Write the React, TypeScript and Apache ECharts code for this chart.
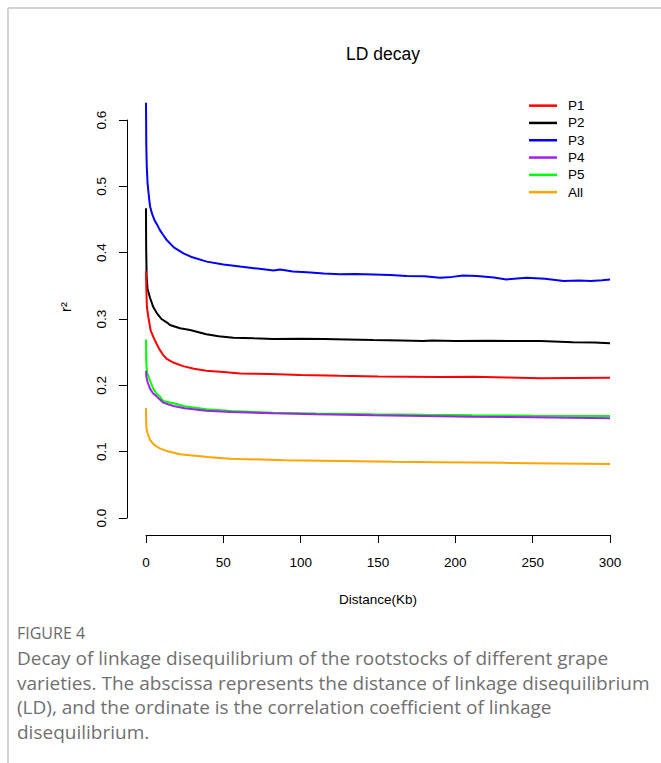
import React, { useEffect, useRef } from "react";
import * as echarts from "echarts";

const titleText = "LD decay";
const xName = "Distance(Kb)";
const yName = "r²";

const seriesNames = ["P1", "P2", "P3", "P4", "P5", "All"];
const seriesColors = ["#FF0000", "#000000", "#0000FF", "#A020F0", "#00FF00", "#FFA500"];

// [distance (Kb), r^2]
const p1: number[][] = [
  [0, 0.372], [0.2, 0.345], [0.6, 0.318], [1.5, 0.303], [3, 0.283], [4.7, 0.273], [7, 0.262], [9, 0.253],
  [11, 0.246], [13.4, 0.24], [18, 0.234], [24, 0.229], [31, 0.225], [39, 0.222], [50, 0.22], [61, 0.218],
  [80, 0.217], [100, 0.2156], [125, 0.2145], [150, 0.2135], [169, 0.213], [190, 0.2125], [212, 0.213],
  [233, 0.2118], [255, 0.2108], [275, 0.2112], [300, 0.2115],
];
const p2: number[][] = [
  [0, 0.467], [0.1, 0.41], [0.4, 0.364], [1, 0.345], [2.6, 0.332], [4.7, 0.318], [7, 0.309], [10, 0.3],
  [13.4, 0.295], [15.5, 0.291], [22, 0.286], [28.5, 0.2834], [39, 0.277], [47, 0.274], [56.5, 0.2718],
  [70, 0.2708], [82, 0.27], [100, 0.2702], [115, 0.27], [130, 0.2692], [147, 0.2683], [165, 0.2676],
  [179, 0.2669], [185, 0.2677], [200, 0.267], [222, 0.2673], [240, 0.2668], [255, 0.2669], [276, 0.2649],
  [290, 0.2645], [300, 0.2634],
];
const p3: number[][] = [
  [0, 0.626], [0.2, 0.56], [0.5, 0.53], [1, 0.505], [2, 0.482], [2.6, 0.47], [4, 0.458], [5.5, 0.449],
  [7, 0.443], [9, 0.434], [11, 0.427], [13.4, 0.419], [18, 0.408], [24.2, 0.399], [30, 0.393], [39.3, 0.3865],
  [50, 0.382], [60.8, 0.379], [72, 0.376], [82.4, 0.373], [86.7, 0.3745], [95, 0.3715], [104, 0.3705],
  [115, 0.3685], [125.4, 0.3674], [135, 0.3678], [147, 0.367], [158, 0.3662], [168.6, 0.365], [180, 0.3645],
  [190, 0.3623], [198, 0.3635], [205, 0.3655], [214, 0.365], [225, 0.3625], [233, 0.3597], [246, 0.3623],
  [258, 0.3605], [270, 0.3573], [280, 0.358], [287.5, 0.3573], [295, 0.3585], [300, 0.3597],
];
const p4: number[][] = [
  [0, 0.222], [0.3, 0.212], [1, 0.205], [2.6, 0.195], [4.5, 0.188], [7, 0.183], [11, 0.174], [17.7, 0.1689],
  [25, 0.1655], [39, 0.1618], [55, 0.1598], [82, 0.1578], [110, 0.1563], [147, 0.1548], [180, 0.1538],
  [211, 0.1528], [250, 0.1518], [300, 0.1505],
];
const p5: number[][] = [
  [0, 0.269], [0.15, 0.24], [0.4, 0.226], [1, 0.217], [2.6, 0.207], [4.7, 0.195], [7, 0.187], [9, 0.183],
  [11, 0.1765], [17.7, 0.173], [25, 0.1685], [39, 0.164], [55, 0.1612], [82, 0.1588], [110, 0.1575],
  [147, 0.1563], [180, 0.1555], [211, 0.1548], [250, 0.1542], [300, 0.1538],
];
const pAll: number[][] = [
  [0, 0.166], [0.2, 0.14], [0.5, 0.133], [1, 0.128], [2.6, 0.1176], [5, 0.111], [7, 0.1075], [9, 0.105],
  [14, 0.1005], [22, 0.096], [28.5, 0.0945], [40, 0.092], [54, 0.0895], [61, 0.089], [90, 0.0872],
  [125.5, 0.086], [160, 0.0848], [190, 0.084], [230, 0.0832], [265, 0.0822], [300, 0.0814],
];
const allData = [p1, p2, p3, p4, p5, pAll];

const captionTitle = "FIGURE 4";
const captionLines = [
  "Decay of linkage disequilibrium of the rootstocks of different grape",
  "varieties. The abscissa represents the distance of linkage disequilibrium",
  "(LD), and the ordinate is the correlation coefficient of linkage",
  "disequilibrium.",
];

export default function App() {
  const ref = useRef<HTMLDivElement>(null);
  useEffect(() => {
    document.body.style.margin = "0";
    const chart = echarts.init(ref.current!, null, { renderer: "svg" });
    const font = "Liberation Sans, Arial, sans-serif";
    const option: any = {
      animation: false,
      backgroundColor: "#ffffff",
      title: {
        text: titleText,
        left: 378,
        top: 40,
        textAlign: "center",
        textStyle: { fontFamily: font, fontSize: 17.5, fontWeight: "normal", color: "#000" },
      },
      legend: {
        orient: "vertical",
        left: 524,
        top: 92,
        icon: "rect",
        itemWidth: 28,
        itemHeight: 2.5,
        itemGap: 0,
        data: seriesNames,
        textStyle: {
          fontFamily: font,
          fontSize: 13.5,
          color: "#000",
          lineHeight: 17.3,
          padding: [0, 0, 0, 6],
        },
      },
      grid: { left: 146, right: 51, top: 120, bottom: 245, containLabel: false },
      xAxis: {
        type: "value",
        min: 0,
        max: 300,
        interval: 50,
        offset: 17,
        name: xName,
        nameLocation: "middle",
        nameGap: 57,
        nameTextStyle: { fontFamily: font, fontSize: 13.5, color: "#000" },
        axisLine: { show: true, onZero: false, lineStyle: { color: "#000", width: 1 } },
        axisTick: { show: true, length: 8, lineStyle: { color: "#000" } },
        axisLabel: { fontFamily: font, fontSize: 13.5, color: "#000", margin: 20, showMinLabel: true, showMaxLabel: true },
        splitLine: { show: false },
      },
      yAxis: {
        type: "value",
        min: 0,
        max: 0.6,
        interval: 0.1,
        offset: 19,
        axisLine: { show: true, onZero: false, lineStyle: { color: "#000", width: 1 } },
        axisTick: { show: true, length: 8, lineStyle: { color: "#000" } },
        axisLabel: {
          fontFamily: font,
          fontSize: 13.5,
          color: "#000",
          rotate: 90,
          margin: 19,
          formatter: (v: number) => v.toFixed(1),
        },
        splitLine: { show: false },
      },
      series: seriesNames.map((name, i) => ({
        name,
        type: "line",
        data: allData[i],
        showSymbol: false,
        symbol: "none",
        clip: false,
        color: seriesColors[i],
        lineStyle: { width: 2, color: seriesColors[i] },
        z: 10 - i,
      })),
      graphic: [
        { type: "line", shape: { x1: 8, y1: 8, x2: 661, y2: 8 }, style: { stroke: "#c4c4c4", lineWidth: 1.5 } },
        { type: "line", shape: { x1: 8, y1: 8, x2: 8, y2: 763 }, style: { stroke: "#c4c4c4", lineWidth: 1.5 } },
        {
          type: "text",
          x: 65,
          y: 307,
          rotation: Math.PI / 2,
          style: { text: yName, fontFamily: font, fontSize: 15, fill: "#000", align: "center", verticalAlign: "middle" },
        },
        {
          type: "text",
          x: 17,
          y: 633,
          style: { text: captionTitle, fontFamily: "Open Sans, sans-serif", fontSize: 16, fill: "#6a6a6a", verticalAlign: "middle" },
        },
        ...captionLines.map((t, i) => ({
          type: "text",
          x: 17,
          y: 658 + i * 24.5,
          style: { text: t, fontFamily: "Open Sans, sans-serif", fontSize: 19, fill: "#707070", verticalAlign: "middle" },
        })),
      ],
    };
    chart.setOption(option);
    return () => chart.dispose();
  }, []);
  return <div ref={ref} style={{ position: "absolute", left: 0, top: 0, width: 661, height: 763 }} />;
}
